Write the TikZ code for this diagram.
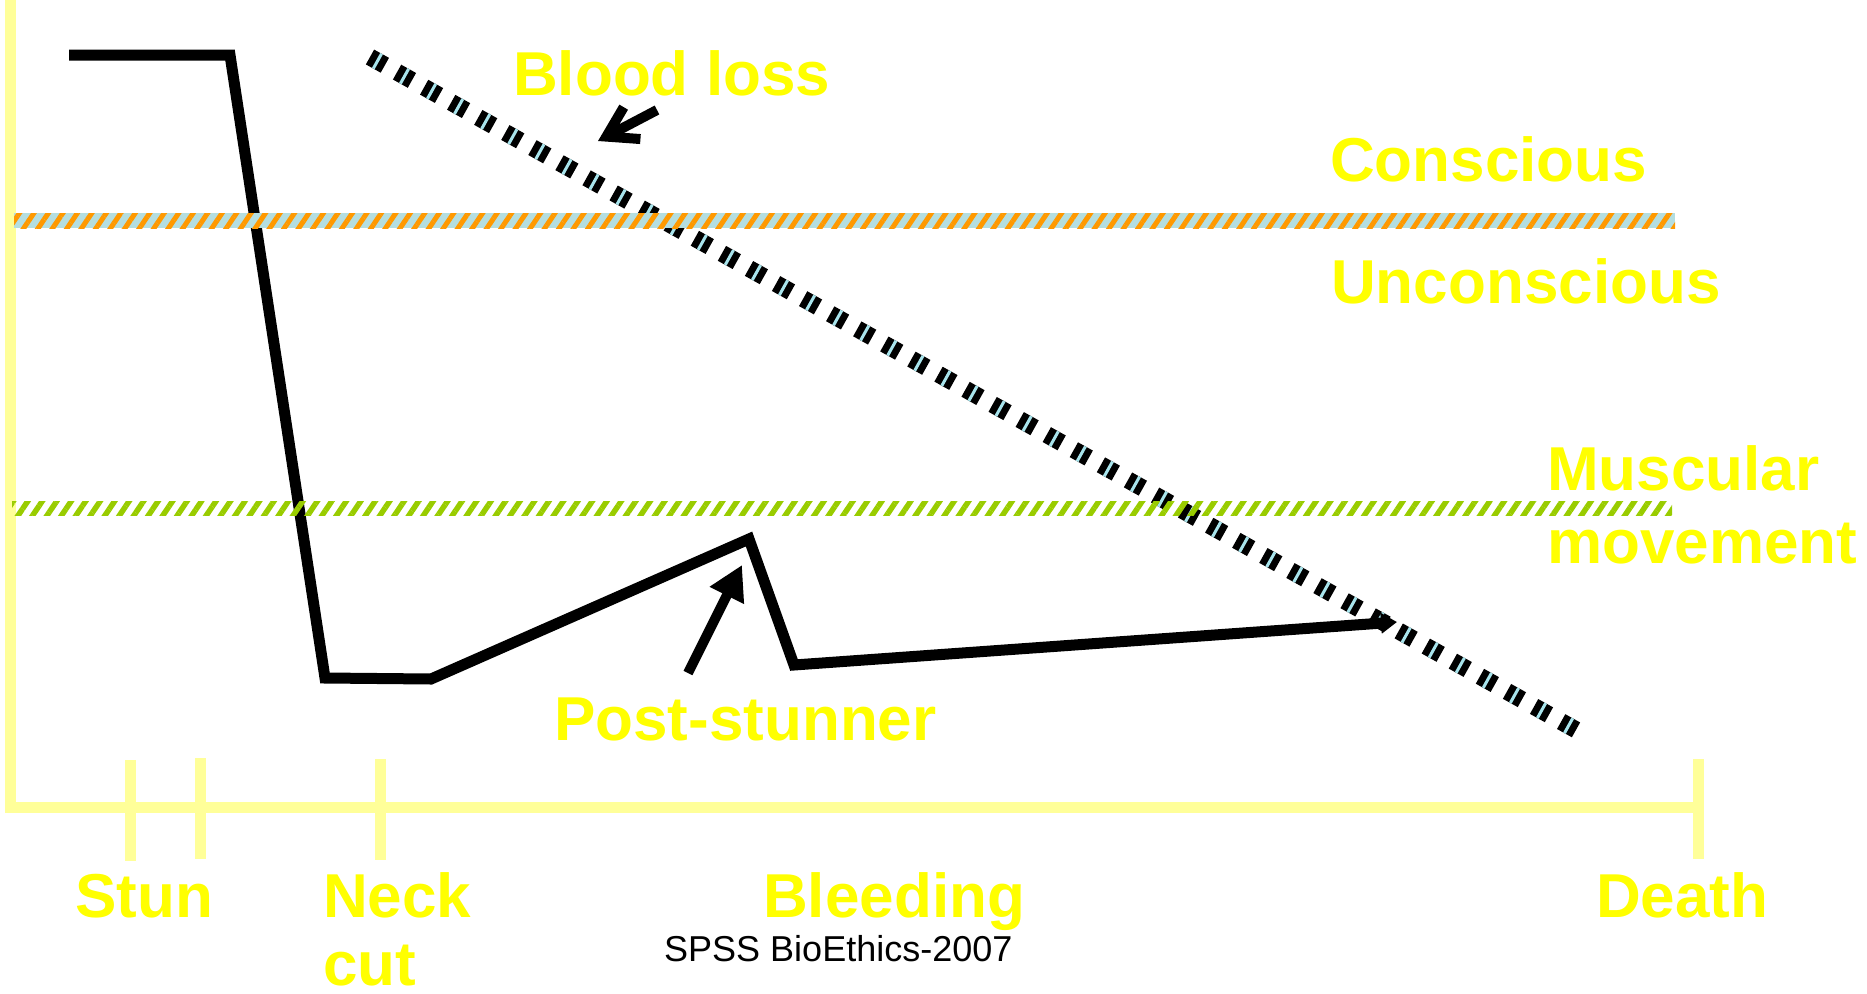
\documentclass[tikz,border=0pt]{standalone}
\usepackage{fontspec}
\setmainfont{Liberation Sans}
\usetikzlibrary{arrows.meta,patterns.meta}
\definecolor{axisyellow}{HTML}{FFFF99}
\definecolor{labelyellow}{HTML}{FFFF00}
\definecolor{bandblue}{HTML}{B4DEE0}
\definecolor{bandorange}{HTML}{FF9900}
\definecolor{bandgreen}{HTML}{99CC00}
\definecolor{dashcyan}{HTML}{A8E4EC}
\begin{document}
\begin{tikzpicture}[x=1pt,y=-1pt,
  axis/.style={draw=axisyellow,line width=11pt},
  curve/.style={draw=black,line width=11pt,line join=miter},
  lbl/.style={text=labelyellow,font=\fontsize{62}{70}\selectfont\bfseries,inner sep=0pt,anchor=base west},
  note/.style={text=black,font=\fontsize{36}{40}\selectfont,inner sep=0pt,anchor=base west},
  pointer/.style={draw=black,line width=10pt},
]
\useasboundingbox (0,0) rectangle (1867,993);

% axes
\draw[axis] (10,0) -- (10,807) -- (1698,807);
\draw[axis] (130,760) -- (130,861);
\draw[axis] (200,758) -- (200,859);
\draw[axis] (380,759) -- (380,860);
\draw[axis] (1698,759) -- (1698,859);

% blood loss dashed line
\coordinate (bl0) at (370,57);
\coordinate (bl1) at (1587,736);
\draw[black,line width=17pt,dash pattern=on 17pt off 14pt] (bl0) -- (bl1);
\draw[dashcyan,line width=17pt,dash pattern=on 3pt off 28pt,dash phase=24pt] (bl0) -- (bl1);

% main curve
\coordinate (c0) at (69,55);
\coordinate (c1) at (230,55);
\coordinate (c2) at (325,678);
\coordinate (c3) at (431,679);
\coordinate (c4) at (749,539);
\coordinate (c5) at (794,665);
\coordinate (c6) at (1397,622);
\draw[curve,-{Triangle[length=16pt,width=20pt]}] (c0) -- (c1) -- (c2) -- (c3) -- (c4) -- (c5) -- (c6);

% bands
\fill[bandblue] (14,213) rectangle (1675,228);
\fill[pattern={Lines[angle=56,distance=12pt,line width=5pt]},pattern color=bandorange] (14,213) rectangle (1675,228);
\fill[pattern={Lines[angle=56,distance=12pt,line width=5.5pt]},pattern color=bandgreen] (12,501) rectangle (1672,515);

% pointers
\coordinate (bltail) at (657,110);
\coordinate (bltip) at (598,141);
\draw[pointer,-{Straight Barb[length=29pt,width=36pt]}] (bltail) -- (bltip);
\coordinate (pstail) at (688,673);
\coordinate (pstip) at (742,565);
\draw[pointer,-{Triangle[length=34pt,width=36pt]}] (pstail) -- (pstip);

% labels
\node[lbl] (bloodloss) at (513,95) {Blood loss};
\node[lbl] (conscious) at (1330,181) {Conscious};
\node[lbl] (unconscious) at (1331,303) {Unconscious};
\node[lbl] (muscular) at (1547,490) {Muscular};
\node[lbl] (movement) at (1547,563) {movement};
\node[lbl] (poststunner) at (554,740) {Post-stunner};
\node[lbl] (stun) at (75,917) {Stun};
\node[lbl] (neck) at (323,917) {Neck};
\node[lbl] (cut) at (323,985) {cut};
\node[lbl] (bleeding) at (763,917) {Bleeding};
\node[lbl] (death) at (1596,917) {Death};
\node[note] (credit) at (664,961) {SPSS BioEthics-2007};
\end{tikzpicture}
\end{document}
